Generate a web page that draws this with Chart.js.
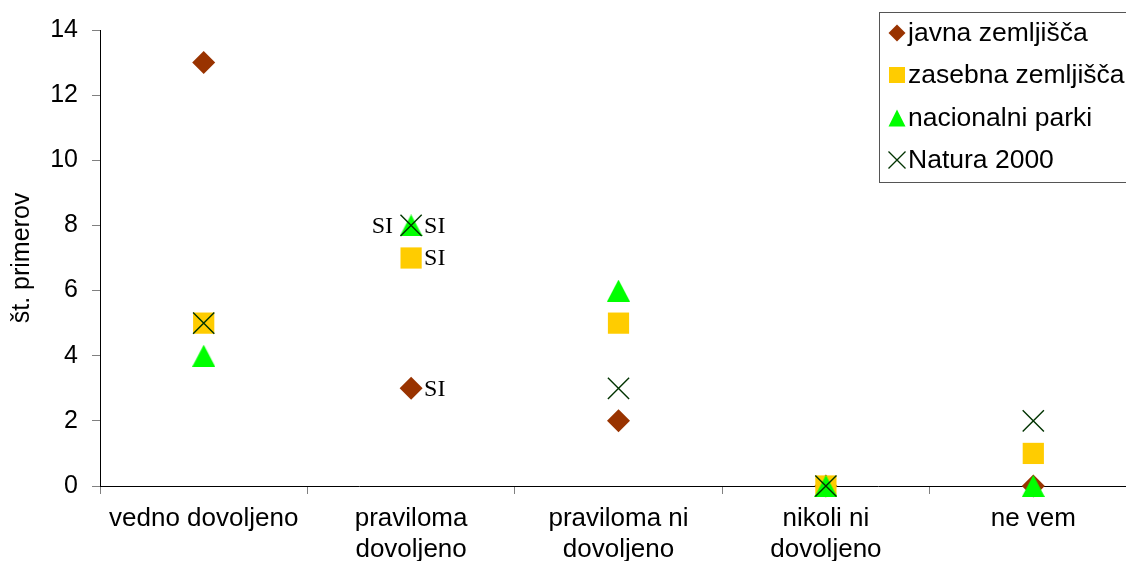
<!DOCTYPE html>
<html>
<head>
<meta charset="utf-8">
<script src="https://cdn.jsdelivr.net/npm/chart.js@4.4.0/dist/chart.umd.min.js"></script>
<style>
  html, body { margin: 0; padding: 0; overflow: hidden; background: #fff; }
  #wrap { position: relative; width: 1157px; height: 561px; }
</style>
</head>
<body>
<div id="wrap"><canvas id="chart"></canvas></div>
<script>
// categories on the x axis (multi-line labels)
const categories = [
  ['vedno dovoljeno'],
  ['praviloma', 'dovoljeno'],
  ['praviloma ni', 'dovoljeno'],
  ['nikoli ni', 'dovoljeno'],
  ['ne vem']
];

// number of cases per series
const javnaValues   = [13, 3, 2, 0, 0];
const zasebnaValues = [5, 7, 5, 0, 1];
const parkiValues   = [4, 8, 6, 0, 0];
const naturaValues  = [5, 8, 3, 0, 2];

// "SI" notes next to some points
const javnaNotes   = ['', 'SI', '', '', ''];
const zasebnaNotes = ['', 'SI', '', '', ''];
const parkiNotes   = ['', 'SI', '', '', ''];
const naturaNotes  = ['', 'SI', '', '', ''];

const yTicks = [0, 2, 4, 6, 8, 10, 12, 14];

const sansFont = '"Liberation Sans", Arial, sans-serif';

// triangle marker centred on its box (the built-in one sits on its centroid)
function triangleImage(w, h, color) {
  const c = document.createElement('canvas');
  c.width = w;
  c.height = h;
  const g = c.getContext('2d');
  g.fillStyle = color;
  g.beginPath();
  g.moveTo(w / 2, 0);
  g.lineTo(w, h);
  g.lineTo(0, h);
  g.closePath();
  g.fill();
  return c;
}

// draws the "SI" labels beside points
const noteLabels = {
  id: 'noteLabels',
  afterDatasetsDraw(chart) {
    const ctx = chart.ctx;
    ctx.save();
    ctx.font = '24px "Liberation Serif", "Times New Roman", serif';
    ctx.fillStyle = '#000';
    ctx.textBaseline = 'middle';
    chart.data.datasets.forEach((ds, i) => {
      const meta = chart.getDatasetMeta(i);
      ds.notes.forEach((txt, j) => {
        if (!txt) return;
        const pt = meta.data[j];
        if (ds.noteSide === 'left') {
          ctx.textAlign = 'right';
          ctx.fillText(txt, pt.x - 18, pt.y + 1);
        } else {
          ctx.textAlign = 'left';
          ctx.fillText(txt, pt.x + 13, pt.y + 1);
        }
      });
    });
    ctx.restore();
  }
};

function drawMarker(ctx, kind, x, y, s, fill, stroke) {
  ctx.beginPath();
  if (kind === 'diamond') {
    ctx.moveTo(x, y - s); ctx.lineTo(x + s, y); ctx.lineTo(x, y + s); ctx.lineTo(x - s, y);
    ctx.closePath(); ctx.fillStyle = fill; ctx.fill();
  } else if (kind === 'square') {
    ctx.fillStyle = fill; ctx.fillRect(x - s, y - s, 2 * s, 2 * s);
  } else if (kind === 'triangle') {
    ctx.moveTo(x, y - s); ctx.lineTo(x + s, y + s); ctx.lineTo(x - s, y + s);
    ctx.closePath(); ctx.fillStyle = fill; ctx.fill();
  } else {
    ctx.moveTo(x - s, y - s); ctx.lineTo(x + s, y + s);
    ctx.moveTo(x + s, y - s); ctx.lineTo(x - s, y + s);
    ctx.strokeStyle = stroke; ctx.lineWidth = 1.3; ctx.stroke();
  }
}

// boxed legend in the top right corner
const boxLegend = {
  id: 'boxLegend',
  afterDraw(chart) {
    const ctx = chart.ctx;
    const rows = [33, 75, 118, 160];
    const sizes = [8.5, 8, 8.5, 8.5];
    ctx.save();
    ctx.fillStyle = '#fff';
    ctx.fillRect(879.5, 12.5, 300, 170);
    ctx.strokeStyle = '#555';
    ctx.lineWidth = 1;
    ctx.strokeRect(879.5, 12.5, 300, 170);
    chart.data.datasets.forEach((ds, i) => {
      drawMarker(ctx, ds.marker, 897, rows[i], sizes[i], ds.backgroundColor, ds.borderColor);
      ctx.fillStyle = '#000';
      ctx.font = '26.5px ' + sansFont;
      ctx.textAlign = 'left';
      ctx.textBaseline = 'middle';
      ctx.fillText(ds.label, 908, rows[i] + 1);
    });
    ctx.restore();
  }
};

const ctx = document.getElementById('chart').getContext('2d');
const chart = new Chart(ctx, {
  type: 'line',
  data: {
    labels: categories,
    datasets: [
      {
        label: 'javna zemljišča',
        marker: 'diamond',
        data: javnaValues,
        notes: javnaNotes,
        pointStyle: 'rectRot',
        pointRadius: 11.5,
        backgroundColor: '#993300',
        borderColor: '#993300',
        pointBorderWidth: 0,
        order: 3
      },
      {
        label: 'zasebna zemljišča',
        marker: 'square',
        data: zasebnaValues,
        notes: zasebnaNotes,
        pointStyle: 'rect',
        pointRadius: 15,
        backgroundColor: '#FFCC00',
        borderColor: '#FFCC00',
        pointBorderWidth: 0,
        order: 2
      },
      {
        label: 'nacionalni parki',
        marker: 'triangle',
        data: parkiValues,
        notes: parkiNotes,
        noteSide: 'left',
        pointStyle: triangleImage(23, 22, '#00FF00'),
        pointRadius: 12,
        backgroundColor: '#00FF00',
        borderColor: '#00FF00',
        pointBorderWidth: 0,
        order: 1
      },
      {
        label: 'Natura 2000',
        marker: 'cross',
        data: naturaValues,
        notes: naturaNotes,
        pointStyle: 'crossRot',
        pointRadius: 15,
        backgroundColor: '#003300',
        borderColor: '#003300',
        pointBorderWidth: 1.4,
        order: 0
      }
    ]
  },
  options: {
    responsive: true,
    maintainAspectRatio: false,
    animation: false,
    events: [],
    showLine: false,
    clip: false,
    layout: { padding: { top: 30, right: 20, left: 0, bottom: 0 } },
    plugins: {
      legend: { display: false },
      tooltip: { enabled: false }
    },
    scales: {
      x: {
        offset: true,
        afterFit: (scale) => { scale.height = 75; },
        grid: {
          offset: true,
          drawOnChartArea: false,
          drawTicks: true,
          tickLength: 8,
          color: '#808080'
        },
        border: { display: true, color: '#000', width: 1 },
        ticks: {
          color: '#000',
          font: { family: sansFont, size: 26, lineHeight: 1.2 },
          padding: 9,
          autoSkip: false,
          maxRotation: 0
        }
      },
      y: {
        min: 0,
        max: 14,
        afterFit: (scale) => { scale.width = 100; },
        afterBuildTicks: (scale) => { scale.ticks = yTicks.map(v => ({ value: v })); },
        grid: {
          drawOnChartArea: false,
          drawTicks: true,
          tickLength: 8,
          color: '#808080'
        },
        border: { display: true, color: '#000', width: 1 },
        ticks: {
          color: '#000',
          font: { family: sansFont, size: 25 },
          padding: 14
        },
        title: {
          display: true,
          text: 'št. primerov',
          color: '#000',
          font: { family: sansFont, size: 25 },
          padding: { top: 7, bottom: 0 }
        }
      }
    }
  },
  plugins: [noteLabels, boxLegend]
});
</script>
</body>
</html>
